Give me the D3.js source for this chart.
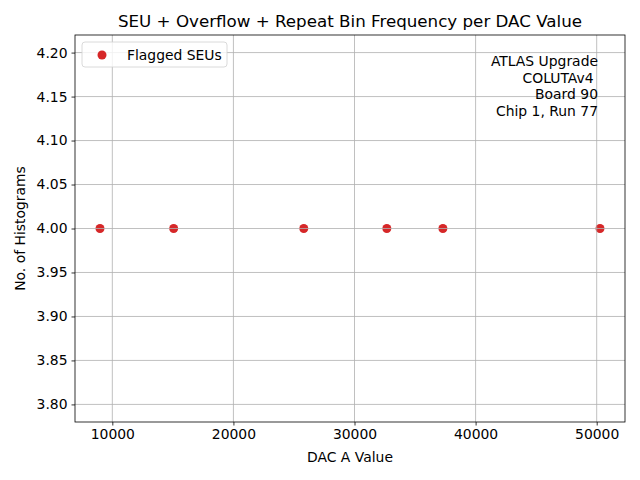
<!DOCTYPE html>
<html>
<head>
<meta charset="utf-8">
<script src="https://cdn.jsdelivr.net/npm/d3@7"></script>
<style>
  body { margin: 0; background: #fff; }
  svg { font-family: "DejaVu Sans", sans-serif; }
</style>
</head>
<body>
<svg id="chart" width="640" height="480"></svg>
<script>
// flagged DAC values and their histogram counts
const dacValues = [8983, 15066, 25810, 32669, 37298, 50273];
const histCounts = [4, 4, 4, 4, 4, 4];
const xTicks = [10000, 20000, 30000, 40000, 50000];
const yTicks = [3.80, 3.85, 3.90, 3.95, 4.00, 4.05, 4.10, 4.15, 4.20];
const infoLines = ['ATLAS Upgrade', 'COLUTAv4 ', 'Board 90', 'Chip 1, Run 77'];

const margin = { top: 35, right: 15, bottom: 58, left: 75 };
const width = 640 - margin.left - margin.right;
const height = 480 - margin.top - margin.bottom;

const svg = d3.select('#chart');
const g = svg.append('g').attr('transform', `translate(${margin.left},${margin.top})`);

// matplotlib style 5% margin
const xMin = d3.min(dacValues), xMax = d3.max(dacValues);
const pad = (xMax - xMin) * 0.05;
const x = d3.scaleLinear().domain([xMin - pad, xMax + pad]).range([0, width]);
const y = d3.scaleLinear().domain([3.78, 4.22]).range([height, 0]);

// points (grid is drawn over them, like matplotlib)
g.append('g')
    .selectAll('circle')
    .data(dacValues)
    .enter().append('circle')
    .attr('cx', d => x(d))
    .attr('cy', (d, i) => y(histCounts[i]))
    .attr('r', 4.5)
    .attr('fill', '#d62728');

// grid
const grid = g.append('g').attr('stroke', '#b0b0b0').attr('stroke-width', 0.8);
grid.selectAll('.gx').data(xTicks).enter().append('line')
    .attr('x1', d => x(d)).attr('x2', d => x(d))
    .attr('y1', 0).attr('y2', height);
grid.selectAll('.gy').data(yTicks).enter().append('line')
    .attr('x1', 0).attr('x2', width)
    .attr('y1', d => y(d)).attr('y2', d => y(d));

// axes
const xAxis = g.append('g')
    .attr('transform', `translate(0,${height})`)
    .call(d3.axisBottom(x).tickValues(xTicks).tickFormat(d3.format('d')).tickSize(3.5).tickPadding(4));
const yAxis = g.append('g')
    .call(d3.axisLeft(y).tickValues(yTicks).tickFormat(d3.format('.2f')).tickSize(3.5).tickPadding(4));

[xAxis, yAxis].forEach(a => {
    a.select('.domain').remove();
    a.selectAll('text').attr('font-size', '13.9px').attr('fill', '#000')
        .attr('font-family', '"DejaVu Sans", sans-serif');
    a.selectAll('line').attr('stroke', '#000').attr('stroke-width', 0.8);
});

// frame
g.append('rect')
    .attr('width', width).attr('height', height)
    .attr('fill', 'none').attr('stroke', '#000').attr('stroke-width', 0.8);

// labels and title
svg.append('text')
    .attr('x', margin.left + width / 2).attr('y', 462)
    .attr('text-anchor', 'middle').attr('font-size', '13.9px')
    .text('DAC A Value');
svg.append('text')
    .attr('transform', `translate(25,${margin.top + height / 2}) rotate(-90)`)
    .attr('text-anchor', 'middle').attr('font-size', '13.9px')
    .text('No. of Histograms');
svg.append('text')
    .attr('x', margin.left + width / 2).attr('y', 27)
    .attr('text-anchor', 'middle').attr('font-size', '16.7px')
    .text('SEU + Overflow + Repeat Bin Frequency per DAC Value');

// info text box
const info = svg.append('text')
    .attr('text-anchor', 'end').attr('font-size', '13.9px')
    .attr('xml:space', 'preserve');
infoLines.forEach((t, i) => {
    info.append('tspan').attr('x', 598).attr('y', 66 + i * 16.5).text(t);
});

// legend
const legend = svg.append('g').attr('transform', 'translate(82,42)');
legend.append('rect')
    .attr('width', 145).attr('height', 25).attr('rx', 3)
    .attr('fill', '#fff').attr('fill-opacity', 0.8)
    .attr('stroke', '#d0d0d0').attr('stroke-width', 0.8);
legend.append('circle')
    .attr('cx', 20).attr('cy', 13).attr('r', 4.5).attr('fill', '#d62728');
legend.append('text')
    .attr('x', 45).attr('y', 17.5).attr('font-size', '13.9px')
    .text('Flagged SEUs');
</script>
</body>
</html>
